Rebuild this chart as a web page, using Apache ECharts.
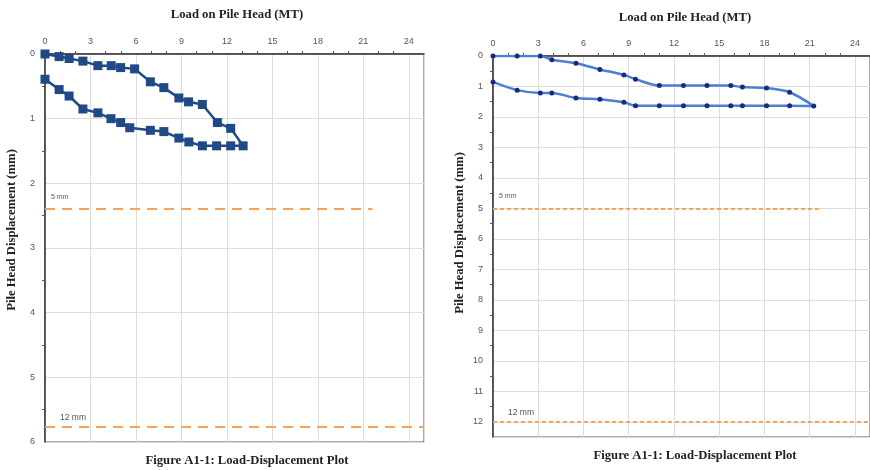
<!DOCTYPE html>
<html>
<head>
<meta charset="utf-8">
<script src="https://cdn.jsdelivr.net/npm/echarts@6/dist/echarts.min.js"></script>
<style>
html, body { margin: 0; padding: 0; background: #fff; }
#main { width: 870px; height: 470px; }
</style>
</head>
<body>
<div id="main"></div>
<script>
// left plot: loading then unloading (MT, mm)
var leftLoad = [0, 0.93, 1.59, 2.5, 3.49, 4.37, 4.99, 5.91, 6.95, 7.84, 8.83, 9.47, 10.38, 11.37, 12.25, 13.07,
                12.25, 11.32, 10.38, 9.49, 8.83, 7.84, 6.95, 5.59, 4.99, 4.35, 3.49, 2.5, 1.59, 0.93, 0];
var leftDisp = [0, 0.04, 0.07, 0.11, 0.18, 0.18, 0.21, 0.23, 0.43, 0.52, 0.68, 0.74, 0.78, 1.06, 1.15, 1.42,
                1.42, 1.42, 1.42, 1.36, 1.30, 1.20, 1.18, 1.14, 1.06, 1.00, 0.91, 0.85, 0.65, 0.55, 0.39];
// right plot
var rightLoad = [0, 1.6, 3.14, 3.9, 5.5, 7.09, 8.68, 9.45, 11.03, 12.63, 14.19, 15.77, 16.54, 18.14, 19.67, 21.27,
                 19.67, 18.14, 16.54, 15.77, 14.19, 12.63, 11.03, 9.45, 8.68, 7.09, 5.5, 3.9, 3.14, 1.6, 0];
var rightDisp = [0, 0, 0, 0.12, 0.24, 0.44, 0.62, 0.76, 0.97, 0.97, 0.97, 0.97, 1.02, 1.05, 1.19, 1.64,
                 1.63, 1.63, 1.63, 1.63, 1.63, 1.63, 1.63, 1.63, 1.52, 1.42, 1.38, 1.21, 1.21, 1.12, 0.85];
// limit lines: [label, displacement, end load]
var leftLimits = [['5 mm', 2.4, 21.6], ['12 mm', 5.77, 25]];
var rightLimits = [['5 mm', 5, 21.6], ['12 mm', 12, 25]];
var xTicks = { min: 0, max: 25, interval: 3 };

function pairs(xs, ys) {
  return xs.map(function (x, i) { return [x, ys[i]]; });
}

// label offsets differ a bit between the two limit lines
var labelDist = [[6, 9], [15, 5]];
var labelSize = [7, 8.5];

function limitLines(list, dash) {
  return {
    silent: true,
    symbol: 'none',
    lineStyle: { color: '#f5a45c', width: 2, type: dash },
    label: { show: true, position: 'insideStartTop', formatter: '{b}', color: '#555', fontFamily: 'Liberation Sans' },
    data: list.map(function (l, i) {
      return [{ name: l[0], coord: [0, l[1]], label: { distance: labelDist[i], fontSize: labelSize[i] } },
              { coord: [l[2], l[1]] }];
    })
  };
}

function xAxisFor(gi) {
  return {
    gridIndex: gi, type: 'value', position: 'top',
    min: xTicks.min, max: xTicks.max, interval: xTicks.interval,
    axisLine: { show: true, onZero: false, lineStyle: { color: '#333', width: 1.5 } },
    axisTick: { show: false },
    minorTick: { show: true, splitNumber: 3, length: 3, lineStyle: { color: '#555' } },
    axisLabel: { color: '#555', fontSize: 9, fontFamily: 'Liberation Sans', margin: 8, showMaxLabel: false },
    splitLine: { show: true, lineStyle: { color: '#dcdcdc' } }
  };
}

function yAxisFor(gi, max) {
  return {
    gridIndex: gi, type: 'value', inverse: true, min: 0, max: max, interval: 1,
    axisLine: { show: true, lineStyle: { color: '#333', width: 1.5 } },
    axisTick: { show: false },
    minorTick: { show: true, splitNumber: 2, length: 3, lineStyle: { color: '#555' } },
    axisLabel: { color: '#555', fontSize: 9, fontFamily: 'Liberation Sans', margin: 10, showMaxLabel: max % 1 === 0 },
    splitLine: { show: true, lineStyle: { color: '#dcdcdc' } }
  };
}

var serif = { fontFamily: 'Liberation Serif', fontWeight: 'bold', fontSize: 12.7, fill: '#222' };

var myechart = echarts.init(document.getElementById('main'));
myechart.setOption({
  animation: false,
  grid: [
    { left: 45, top: 54, width: 379, height: 388, show: true, borderColor: '#555', borderWidth: 1 },
    { left: 493, top: 56, width: 381, height: 381, show: true, borderColor: '#555', borderWidth: 1 }
  ],
  xAxis: [xAxisFor(0), xAxisFor(1)],
  yAxis: [yAxisFor(0, 6), yAxisFor(1, 12.5)],
  graphic: [
    { type: 'text', x: 237, y: 15, style: Object.assign({ text: 'Load on Pile Head (MT)', align: 'center', verticalAlign: 'middle' }, serif) },
    { type: 'text', x: 685, y: 18, style: Object.assign({ text: 'Load on Pile Head (MT)', align: 'center', verticalAlign: 'middle' }, serif) },
    { type: 'text', x: 12, y: 230, rotation: Math.PI / 2, style: Object.assign({ text: 'Pile Head Displacement (mm)', align: 'center', verticalAlign: 'middle' }, serif) },
    { type: 'text', x: 460, y: 233, rotation: Math.PI / 2, style: Object.assign({ text: 'Pile Head Displacement (mm)', align: 'center', verticalAlign: 'middle' }, serif) },
    { type: 'text', x: 247, y: 461, style: Object.assign({ text: 'Figure A1-1: Load-Displacement Plot', align: 'center', verticalAlign: 'middle' }, serif) },
    { type: 'text', x: 695, y: 456, style: Object.assign({ text: 'Figure A1-1: Load-Displacement Plot', align: 'center', verticalAlign: 'middle' }, serif) }
  ],
  series: [
    {
      type: 'line', xAxisIndex: 0, yAxisIndex: 0,
      data: pairs(leftLoad, leftDisp),
      symbol: 'rect', symbolSize: 9,
      lineStyle: { color: '#1f4a86', width: 2.5 },
      itemStyle: { color: '#1f4a86' },
      markLine: limitLines(leftLimits, [10, 7])
    },
    {
      type: 'line', xAxisIndex: 1, yAxisIndex: 1,
      data: pairs(rightLoad, rightDisp),
      smooth: 0.3,
      symbol: 'circle', symbolSize: 5,
      lineStyle: { color: '#4a7fd2', width: 2.5 },
      itemStyle: { color: '#1b2a80' },
      markLine: limitLines(rightLimits, [4, 3])
    }
  ]
});
</script>
</body>
</html>
